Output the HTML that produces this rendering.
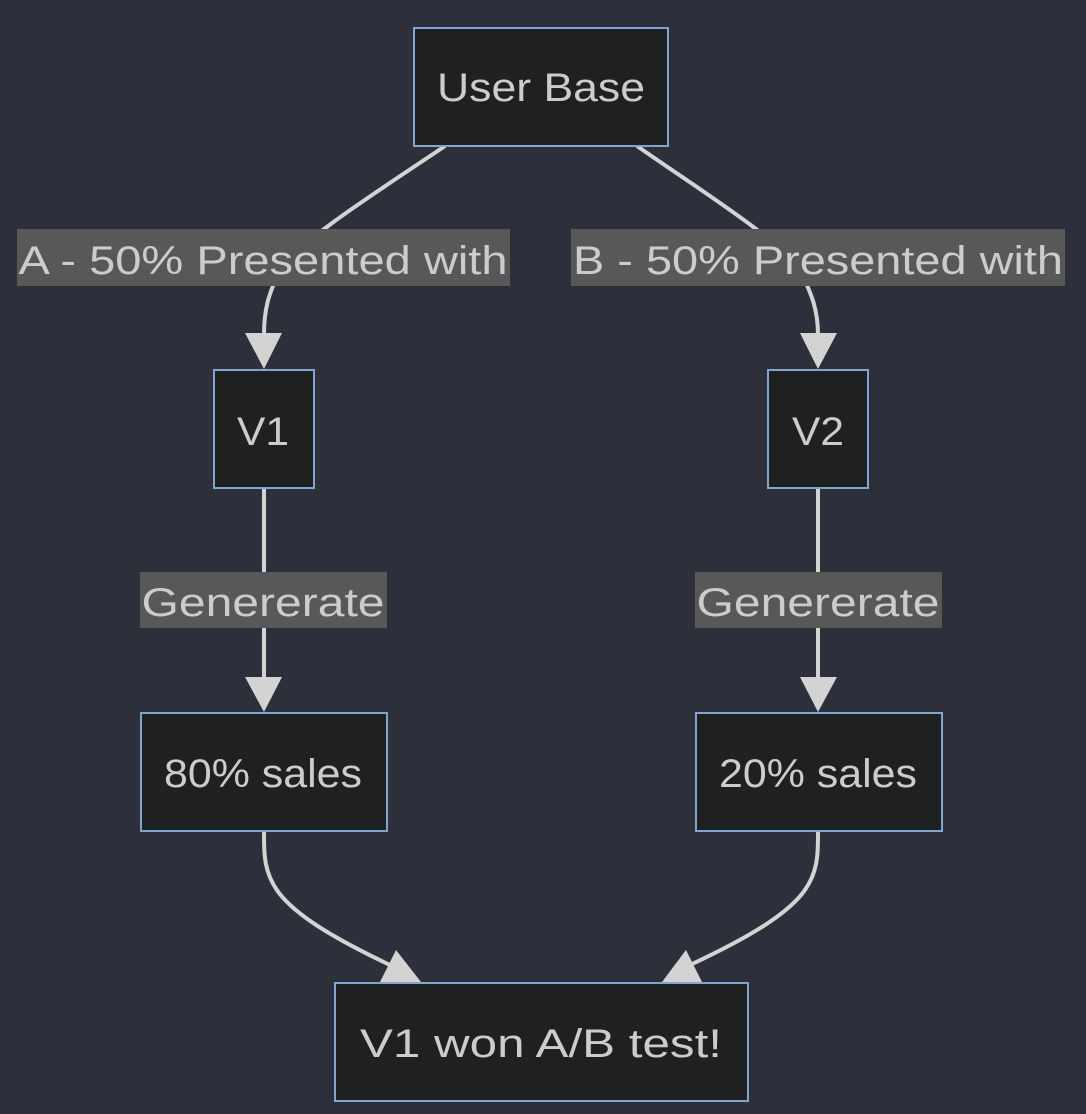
<!DOCTYPE html>
<html><head><meta charset="utf-8"><style>
html,body{margin:0;padding:0;background:#2d303b;}
svg{display:block}
text{font-family:"Liberation Sans","DejaVu Sans",sans-serif;font-size:40px;fill:#cccccc;}
</style></head><body>
<svg width="1086" height="1114" viewBox="0 0 1086 1114" xmlns="http://www.w3.org/2000/svg">
<rect width="1086" height="1114" fill="#2d303b"/>
<g fill="none" stroke="#d3d3d3" stroke-width="4">
<path d="M445 146 C380 190 300 240 280 270 C268 295 264 310 264 335"/>
<path d="M637 146 C700 190 780 240 800 270 C812 295 818 310 818 335"/>
<path d="M264 488 L264 678"/>
<path d="M818 488 L818 678"/>
<path d="M264 831 C264 880 264 905 390 965"/>
<path d="M818 831 C818 880 818 905 690 965"/>
</g>
<g fill="#d3d3d3">
<polygon points="245,333 282,333 264,369"/>
<polygon points="800,333 837,333 818,369"/>
<polygon points="245,677 282,677 264,712"/>
<polygon points="800,677 837,677 818,712"/>
<polygon points="380,982 421,982 396,950"/>
<polygon points="662,982 702,982 686,950"/>
</g>
<g fill="#585858">
<rect x="17" y="229" width="493" height="57"/>
<rect x="571" y="229" width="494" height="57"/>
<rect x="140" y="572" width="247" height="56"/>
<rect x="695" y="572" width="247" height="56"/>
</g>
<g fill="#1f2020" stroke="#81a5d1" stroke-width="2">
<rect x="414" y="28" width="254" height="118"/>
<rect x="214" y="370" width="100" height="118"/>
<rect x="768" y="370" width="100" height="118"/>
<rect x="141" y="713" width="246" height="118"/>
<rect x="696" y="713" width="246" height="118"/>
<rect x="335" y="983" width="413" height="118"/>
</g>
<g text-anchor="middle">
<text x="541" y="101" textLength="208" lengthAdjust="spacingAndGlyphs">User Base</text>
<text x="263" y="274" textLength="489" lengthAdjust="spacingAndGlyphs">A - 50% Presented with</text>
<text x="818" y="274" textLength="490" lengthAdjust="spacingAndGlyphs">B - 50% Presented with</text>
<text x="263" y="445" textLength="52" lengthAdjust="spacingAndGlyphs">V1</text>
<text x="818" y="445" textLength="52" lengthAdjust="spacingAndGlyphs">V2</text>
<text x="263" y="616" textLength="243" lengthAdjust="spacingAndGlyphs">Genererate</text>
<text x="818" y="616" textLength="243" lengthAdjust="spacingAndGlyphs">Genererate</text>
<text x="263" y="787" textLength="198" lengthAdjust="spacingAndGlyphs">80% sales</text>
<text x="818" y="787" textLength="198" lengthAdjust="spacingAndGlyphs">20% sales</text>
<text x="541" y="1057" textLength="362" lengthAdjust="spacingAndGlyphs">V1 won A/B test!</text>
</g>
</svg>
</body></html>
